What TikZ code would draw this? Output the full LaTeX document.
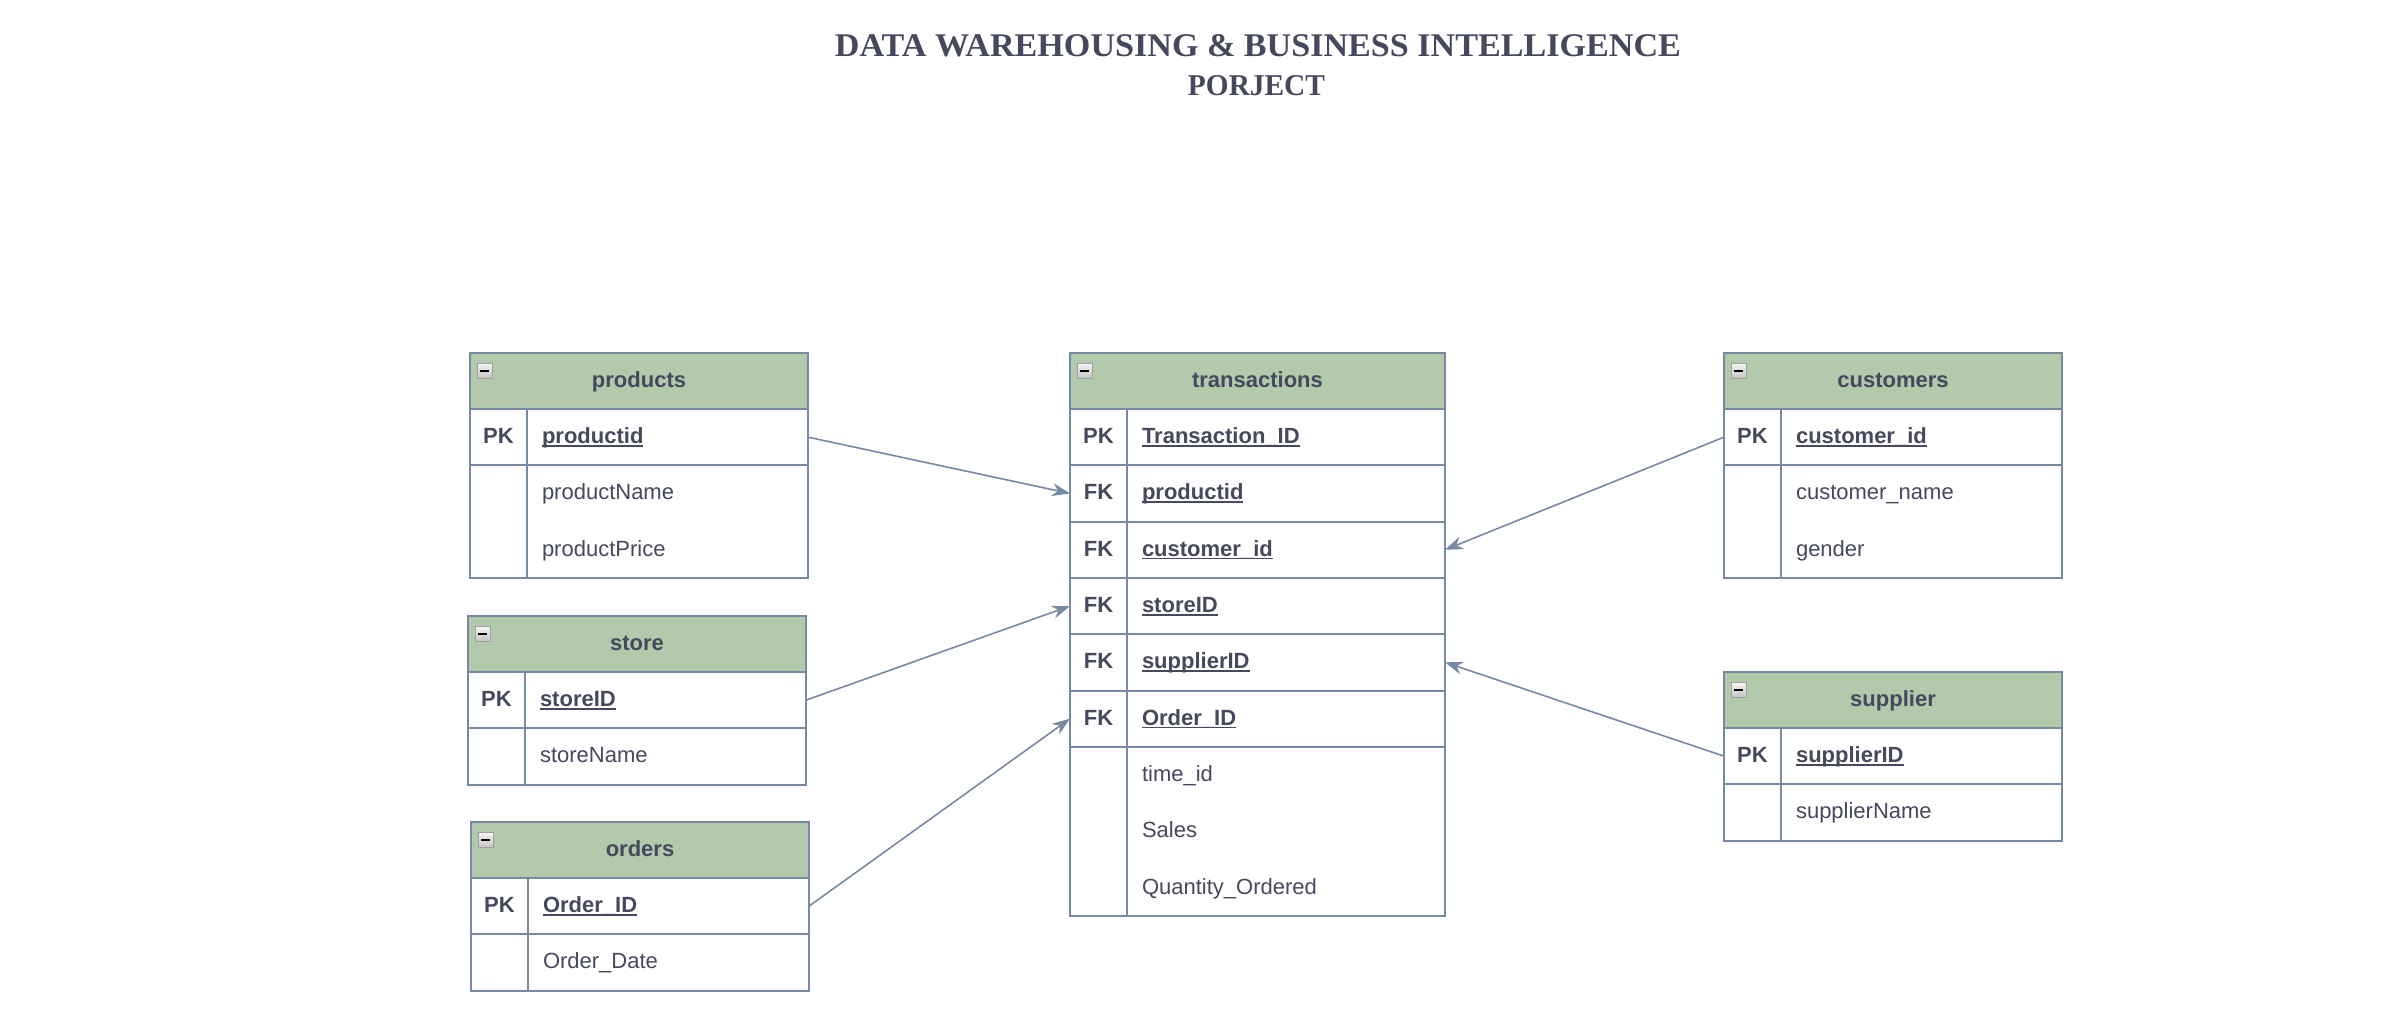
\documentclass[tikz,border=0pt]{standalone}
\usepackage{fontspec}
\setmainfont{Liberation Sans}
\newfontfamily\titlefont{Liberation Serif}
\usepackage{graphicx}
\usepackage{xcolor}
\usepackage{tikz}
\usetikzlibrary{arrows.meta, positioning}
\definecolor{textcol}{HTML}{46495D}
\definecolor{linecol}{HTML}{788AA3}
\definecolor{headcol}{HTML}{B2C9AB}
% bold key field, underline close under the baseline
\newcommand{\keyname}[1]{\setbox0\hbox{\bfseries #1}\rlap{\color{textcol}\rule[-3pt]{\wd0}{1.6pt}}\box0}
\tikzset{
  tablehead/.style={
    rectangle, draw=linecol, line width=2pt, fill=headcol, outer sep=0pt,
    anchor=north west, minimum width=#1, minimum height=56pt,
    text height=16pt, text depth=3pt, text=textcol,
    font=\fontsize{22}{26}\selectfont\bfseries
  },
  tablehead/.default=338pt,
  keycell/.style={
    rectangle, draw=linecol, line width=2pt, fill=white, outer sep=0pt,
    minimum width=57pt, minimum height=#1, text height=16pt, text depth=3pt,
    text=textcol, font=\fontsize{22}{26}\selectfont\bfseries
  },
  keycell/.default=56.3pt,
  fieldcell/.style={
    rectangle, draw=linecol, line width=2pt, fill=white, outer sep=0pt,
    text width=#1, inner xsep=15pt, inner ysep=0pt, minimum height=56.3pt,
    align=left, text height=16pt, text depth=3pt, text=textcol,
    font=\fontsize{22}{56.3}\selectfont
  },
  fieldcell/.default=251pt,
  togglebox/.style={
    rectangle, draw=gray!75, line width=1pt, top color=gray!8, bottom color=gray!45,
    minimum size=15pt, inner sep=0pt, outer sep=0pt,
    path picture={\draw[black, line width=2pt]
      ([xshift=3pt]path picture bounding box.west) -- ([xshift=-3pt]path picture bounding box.east);}
  },
  relarrow/.style={
    draw=linecol, line width=1.6pt, -{Stealth[length=18pt, width=13pt]}
  },
  titletext/.style={
    text=textcol, anchor=base, inner sep=0pt, font=\titlefont\bfseries
  }
}
\begin{document}
\begin{tikzpicture}[x=1pt, y=-1pt]
  \path[fill=white, use as bounding box] (0,0) rectangle (2407,1015);

  \node[titletext] (titleMain) at (1258,56) {\resizebox{846pt}{22pt}{DATA WAREHOUSING \& BUSINESS INTELLIGENCE}};
  \node[titletext] (titleSub) at (1256.5,95) {\resizebox{137pt}{20pt}{PORJECT}};

  % products
  \node[tablehead] (prodHead) at (470,353) {products};
  \node[togglebox, below right=10pt and 7pt of prodHead.north west] (prodToggle) {};
  \node[keycell, below right=0pt and 0pt of prodHead.south west] (prodPkKey) {PK};
  \node[fieldcell, right=0pt of prodPkKey] (prodPk) {\keyname{productid}};
  \node[keycell=112.6pt, below=0pt of prodPkKey] (prodAttrKey) {};
  \node[fieldcell, minimum height=112.6pt, text depth=59.3pt, right=0pt of prodAttrKey] (prodAttr) {productName\\productPrice};

  % store
  \node[tablehead] (storeHead) at (468,616) {store};
  \node[togglebox, below right=10pt and 7pt of storeHead.north west] (storeToggle) {};
  \node[keycell, below right=0pt and 0pt of storeHead.south west] (storePkKey) {PK};
  \node[fieldcell, right=0pt of storePkKey] (storePk) {\keyname{storeID}};
  \node[keycell, below=0pt of storePkKey] (storeAttrKey) {};
  \node[fieldcell, right=0pt of storeAttrKey] (storeAttr) {storeName};

  % orders
  \node[tablehead] (ordHead) at (471,822) {orders};
  \node[togglebox, below right=10pt and 7pt of ordHead.north west] (ordToggle) {};
  \node[keycell, below right=0pt and 0pt of ordHead.south west] (ordPkKey) {PK};
  \node[fieldcell, right=0pt of ordPkKey] (ordPk) {\keyname{Order\_ID}};
  \node[keycell, below=0pt of ordPkKey] (ordAttrKey) {};
  \node[fieldcell, right=0pt of ordAttrKey] (ordAttr) {Order\_Date};

  % transactions
  \node[tablehead=375pt] (transHead) at (1070,353) {transactions};
  \node[togglebox, below right=10pt and 7pt of transHead.north west] (transToggle) {};
  \node[keycell, below right=0pt and 0pt of transHead.south west] (transPkKey) {PK};
  \node[fieldcell=288pt, right=0pt of transPkKey] (transPk) {\keyname{Transaction\_ID}};
  \node[keycell, below=0pt of transPkKey] (transFk1Key) {FK};
  \node[fieldcell=288pt, right=0pt of transFk1Key] (transFk1) {\keyname{productid}};
  \node[keycell, below=0pt of transFk1Key] (transFk2Key) {FK};
  \node[fieldcell=288pt, right=0pt of transFk2Key] (transFk2) {\keyname{customer\_id}};
  \node[keycell, below=0pt of transFk2Key] (transFk3Key) {FK};
  \node[fieldcell=288pt, right=0pt of transFk3Key] (transFk3) {\keyname{storeID}};
  \node[keycell, below=0pt of transFk3Key] (transFk4Key) {FK};
  \node[fieldcell=288pt, right=0pt of transFk4Key] (transFk4) {\keyname{supplierID}};
  \node[keycell, below=0pt of transFk4Key] (transFk5Key) {FK};
  \node[fieldcell=288pt, right=0pt of transFk5Key] (transFk5) {\keyname{Order\_ID}};
  \node[keycell=168.9pt, below=0pt of transFk5Key] (transAttrKey) {};
  \node[fieldcell=288pt, minimum height=168.9pt, text depth=115.6pt, right=0pt of transAttrKey] (transAttr) {time\_id\\Sales\\Quantity\_Ordered};

  % customers
  \node[tablehead] (custHead) at (1724,353) {customers};
  \node[togglebox, below right=10pt and 7pt of custHead.north west] (custToggle) {};
  \node[keycell, below right=0pt and 0pt of custHead.south west] (custPkKey) {PK};
  \node[fieldcell, right=0pt of custPkKey] (custPk) {\keyname{customer\_id}};
  \node[keycell=112.6pt, below=0pt of custPkKey] (custAttrKey) {};
  \node[fieldcell, minimum height=112.6pt, text depth=59.3pt, right=0pt of custAttrKey] (custAttr) {customer\_name\\gender};

  % supplier
  \node[tablehead] (supHead) at (1724,672) {supplier};
  \node[togglebox, below right=10pt and 7pt of supHead.north west] (supToggle) {};
  \node[keycell, below right=0pt and 0pt of supHead.south west] (supPkKey) {PK};
  \node[fieldcell, right=0pt of supPkKey] (supPk) {\keyname{supplierID}};
  \node[keycell, below=0pt of supPkKey] (supAttrKey) {};
  \node[fieldcell, right=0pt of supAttrKey] (supAttr) {supplierName};

  \draw[relarrow] (prodPk.east) -- (transFk1Key.west);
  \draw[relarrow] (storePk.east) -- (transFk3Key.west);
  \draw[relarrow] (ordPk.east) -- (transFk5Key.west);
  \draw[relarrow] (custPkKey.west) -- (transFk2.east);
  \draw[relarrow] (supPkKey.west) -- (transFk4.east);
\end{tikzpicture}
\end{document}
